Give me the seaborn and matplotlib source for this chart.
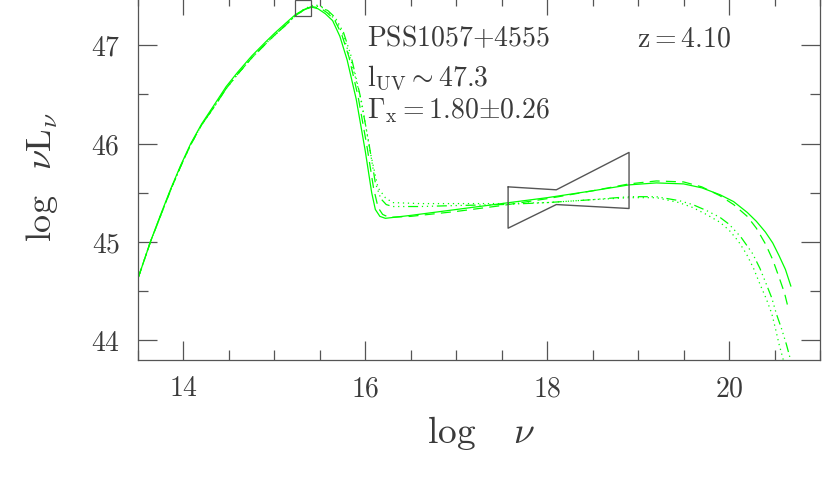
import matplotlib
matplotlib.use("Agg")
import matplotlib.pyplot as plt
from matplotlib.ticker import MultipleLocator, FuncFormatter
import seaborn as sns

# --------------------------------------------------------------------------- #
# Data
# --------------------------------------------------------------------------- #

# solid model
x_solid = [13.50, 13.57, 13.64, 13.75, 13.86, 13.97, 14.08, 14.20, 14.35, 14.47,
           14.60, 14.75, 14.90, 15.00, 15.12, 15.23, 15.32, 15.40, 15.48, 15.56,
           15.64, 15.72, 15.80, 15.90, 16.00, 16.07, 16.11, 16.16, 16.22, 16.50,
           17.00, 17.50, 18.00, 18.50, 18.90, 19.20, 19.50, 19.70, 19.90, 20.05,
           20.20, 20.30, 20.40, 20.48, 20.55, 20.62, 20.68]
y_solid = [44.63, 44.82, 45.01, 45.28, 45.54, 45.78, 46.00, 46.20, 46.41, 46.58,
           46.73, 46.89, 47.03, 47.12, 47.22, 47.31, 47.36, 47.39, 47.37, 47.32,
           47.25, 47.09, 46.85, 46.45, 45.92, 45.50, 45.33, 45.26, 45.24, 45.27,
           45.33, 45.39, 45.45, 45.52, 45.58, 45.60, 45.59, 45.55, 45.48, 45.41,
           45.30, 45.21, 45.10, 44.99, 44.86, 44.72, 44.55]

# dashed model
x_dash = [13.50, 13.57, 13.64, 13.75, 13.86, 13.97, 14.08, 14.20, 14.35, 14.47,
          14.60, 14.75, 14.90, 15.00, 15.12, 15.23, 15.33, 15.42, 15.50, 15.58,
          15.66, 15.74, 15.82, 15.92, 16.02, 16.09, 16.14, 16.19, 16.26, 16.50,
          17.00, 17.50, 18.00, 18.50, 18.90, 19.20, 19.50, 19.70, 19.90, 20.05,
          20.20, 20.30, 20.40, 20.48, 20.55, 20.61, 20.65]
y_dash = [44.63, 44.82, 45.01, 45.27, 45.53, 45.77, 45.99, 46.19, 46.39, 46.56,
          46.71, 46.87, 47.01, 47.10, 47.20, 47.30, 47.36, 47.39, 47.38, 47.33,
          47.26, 47.11, 46.88, 46.48, 45.96, 45.55, 45.35, 45.28, 45.25, 45.26,
          45.31, 45.37, 45.44, 45.52, 45.59, 45.62, 45.61, 45.56, 45.47, 45.38,
          45.26, 45.14, 44.98, 44.82, 44.64, 44.48, 44.33]

# dash-dot-dot-dot model
x_ddd = [13.50, 13.57, 13.64, 13.75, 13.86, 13.97, 14.08, 14.20, 14.35, 14.47,
         14.60, 14.75, 14.90, 15.00, 15.12, 15.23, 15.33, 15.43, 15.51, 15.59,
         15.67, 15.76, 15.84, 15.94, 16.04, 16.11, 16.17, 16.23, 16.30, 16.60,
         17.00, 17.50, 18.00, 18.50, 18.90, 19.20, 19.45, 19.60, 19.75, 19.90,
         20.00, 20.13, 20.26, 20.34, 20.41, 20.47, 20.52, 20.58, 20.63, 20.70]
y_ddd = [44.63, 44.82, 45.01, 45.27, 45.53, 45.77, 45.99, 46.19, 46.39, 46.56,
         46.71, 46.87, 47.01, 47.10, 47.20, 47.30, 47.36, 47.40, 47.39, 47.35,
         47.28, 47.13, 46.90, 46.50, 46.00, 45.60, 45.44, 45.38, 45.36, 45.36,
         45.37, 45.38, 45.40, 45.43, 45.46, 45.46, 45.42, 45.38, 45.32, 45.25,
         45.18, 45.05, 44.88, 44.73, 44.57, 44.43, 44.27, 44.11, 43.96, 43.72]

# dotted model
x_dot = [13.50, 13.57, 13.64, 13.75, 13.86, 13.97, 14.08, 14.20, 14.35, 14.47,
         14.60, 14.75, 14.90, 15.00, 15.12, 15.23, 15.33, 15.43, 15.51, 15.60,
         15.68, 15.75, 15.85, 15.96, 16.05, 16.14, 16.22, 16.30, 16.60, 17.00,
         17.50, 18.00, 18.50, 18.90, 19.20, 19.45, 19.60, 19.75, 19.90, 20.00,
         20.10, 20.19, 20.27, 20.34, 20.41, 20.47, 20.51, 20.55, 20.62]
y_dot = [44.63, 44.82, 45.01, 45.27, 45.53, 45.77, 45.99, 46.19, 46.39, 46.56,
         46.71, 46.87, 47.01, 47.10, 47.20, 47.30, 47.37, 47.41, 47.40, 47.33,
         47.24, 47.12, 46.82, 46.42, 45.93, 45.55, 45.45, 45.40, 45.39, 45.39,
         45.39, 45.40, 45.43, 45.45, 45.45, 45.40, 45.35, 45.28, 45.20, 45.12,
         45.01, 44.88, 44.73, 44.57, 44.42, 44.27, 44.12, 43.96, 43.72]

# X-ray bowtie and UV point
bow_x = [17.57, 18.10, 18.90, 18.90, 18.10, 17.57, 17.57]
bow_y = [45.56, 45.53, 45.91, 45.34, 45.38, 45.14, 45.56]
uv_x = [15.31]
uv_y = [47.38]

x_ticks = [14, 16, 18, 20]
y_ticks = [44, 45, 46, 47]

# --------------------------------------------------------------------------- #
# Style
# --------------------------------------------------------------------------- #

sns.set_theme(style="ticks")
plt.rcParams["font.family"] = ["DejaVu Serif"]
plt.rcParams["mathtext.fontset"] = "cm"

GREEN = "#00ff00"
GREY = "#555555"
TEXT = "#3a3a3a"

fig = plt.figure(figsize=(8.3, 4.98), dpi=100)
ax = fig.add_axes([138 / 830, 138 / 498, 682 / 830, 364 / 498])

curves = [
    (x_solid, y_solid, "-"),
    (x_dash, y_dash, (0, (8, 5))),
    (x_ddd, y_ddd, (0, (8, 3, 1, 3, 1, 3, 1, 3))),
    (x_dot, y_dot, (0, (1, 3))),
]
for xs, ys, ls in curves:
    sns.lineplot(x=xs, y=ys, ax=ax, color=GREEN, lw=0.9, linestyle=ls,
                 sort=False, estimator=None)

ax.plot(bow_x, bow_y, color=GREY, lw=1.0)
ax.plot(uv_x, uv_y, marker="s", ms=11, mfc="none", mec=GREY, mew=0.9,
        ls="none", clip_on=False)

ax.set_xlim(13.5, 21.0)
ax.set_ylim(43.8, 47.5)

# --- ticks ---
ax.set_xticks(x_ticks)
ax.set_yticks(y_ticks)
ax.xaxis.set_minor_locator(MultipleLocator(0.5))
ax.yaxis.set_minor_locator(MultipleLocator(0.5))
fmt = FuncFormatter(lambda v, p: rf"$\mathrm{{{v:.0f}}}$")
ax.xaxis.set_major_formatter(fmt)
ax.yaxis.set_major_formatter(fmt)
ax.tick_params(which="both", direction="in", top=True, right=True,
               color=GREY, width=0.9, labelcolor=TEXT, labelsize=20)
ax.tick_params(which="major", length=14)
ax.tick_params(which="minor", length=7)
ax.tick_params(axis="x", pad=11)
ax.tick_params(axis="y", pad=13)
for sp in ax.spines.values():
    sp.set_color(GREY)
    sp.set_linewidth(0.9)

# --- axis labels ---
ax.set_xlabel(r"$\log\ \ \ \nu$", fontsize=27, color=TEXT)
ax.set_ylabel(r"$\log\ \ \nu\mathrm{L}_\nu$", fontsize=26, color=TEXT)
ax.xaxis.set_label_coords(0.503, -0.148)
ax.yaxis.set_label_coords(-0.114, 0.503)

# --- annotations ---
ax.text(16.02, 46.99, r"$\mathrm{PSS1057{+}4555}$", fontsize=20, color=TEXT, va="baseline")
ax.text(18.99, 46.99, r"$\mathrm{z{=}4.10}$", fontsize=20, color=TEXT, va="baseline")
ax.text(16.02, 46.58, r"$\mathrm{l_{UV}{\sim}47.3}$", fontsize=20, color=TEXT, va="baseline")
ax.text(16.02, 46.26, r"$\Gamma_\mathrm{x}{=}1.80{\pm}0.26$", fontsize=20, color=TEXT, va="baseline")

fig.savefig("out.png", dpi=100)
